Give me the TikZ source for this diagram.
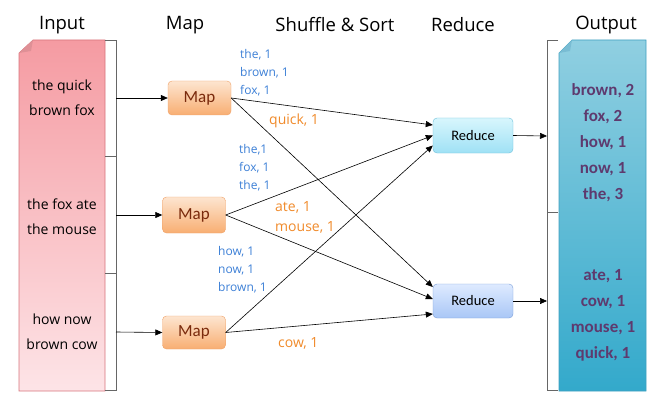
\documentclass[tikz,border=0pt]{standalone}
\usepackage{fontspec}
\setmainfont{Open Sans}
\newfontfamily\calib{Carlito}
\usetikzlibrary{arrows.meta,positioning}
\definecolor{pinkT}{HTML}{F59BA2}
\definecolor{pinkB}{HTML}{FDE4E7}
\definecolor{pinkD}{HTML}{D7747C}
\definecolor{tealT}{HTML}{90CFE1}
\definecolor{tealB}{HTML}{33A9CB}
\definecolor{tealD}{HTML}{3FA0C0}
\definecolor{outtxt}{HTML}{5E3A6E}
\definecolor{mapT}{HTML}{FDE5D0}
\definecolor{mapB}{HTML}{F8AE72}
\definecolor{mapD}{HTML}{EFA066}
\definecolor{maptxt}{HTML}{7A2A0C}
\definecolor{r1T}{HTML}{D8F6FD}
\definecolor{r1B}{HTML}{9FE1F5}
\definecolor{r1D}{HTML}{6DBFDA}
\definecolor{r2T}{HTML}{DEEAFF}
\definecolor{r2B}{HTML}{A9C7F6}
\definecolor{r2D}{HTML}{7B9ED8}
\definecolor{lblue}{HTML}{3C7FD6}
\definecolor{lorange}{HTML}{F08A2A}
\begin{document}
\begin{tikzpicture}[x=1pt,y=-1pt,
  title/.style={font=\fontsize{18.5}{22}\selectfont, anchor=center},
  intxt/.style={font=\fontsize{14}{25}\selectfont, align=center, anchor=center},
  outtext/.style={font=\calib\bfseries\fontsize{17}{26}\selectfont, text=outtxt, align=center, anchor=center},
  mapbox/.style={draw=mapD, rounded corners=4pt, top color=mapT, bottom color=mapB, minimum width=63pt, minimum height=34pt, font=\calib\fontsize{17}{18}\selectfont, text=maptxt, inner sep=0pt},
  redbox/.style={draw=#1D, rounded corners=4pt, top color=#1T, bottom color=#1B, minimum width=80pt, minimum height=35pt, font=\calib\fontsize{14.5}{16}\selectfont, text=black, inner sep=0pt},
  bl/.style={font=\fontsize{12}{18}\selectfont, text=lblue, align=left, anchor=west, inner sep=0pt},
  ol/.style={font=\fontsize{14}{20}\selectfont, text=lorange, align=left, anchor=west, inner sep=0pt},
  conn/.style={draw=black, line width=0.6pt, -{Triangle[length=7pt,width=6pt]}},
  brk/.style={draw=gray!80!black, line width=0.8pt},
]
\useasboundingbox (0,0) rectangle (666,409);
% titles
\node[title] (tin) at (62,25) {Input};
\node[title] (tmap) at (185,25) {Map};
\node[title] (tss) at (335,25) {Shuffle \& Sort};
\node[title] (tred) at (463,25) {Reduce};
\node[title] (tout) at (606,25) {Output};

% input document
\shade[top color=pinkT, bottom color=pinkB, draw=pinkD, line width=0.6pt]
  (19,53) -- (33,40) -- (105,40) -- (105,391) -- (19,391) -- cycle;
\fill[pinkD!80] (19,53) -- (33,40) -- (31,51) -- cycle;
\node[intxt] (in1) at (62,98) {the quick\\brown fox};
\node[intxt] (in2) at (62,217) {the fox ate\\the mouse};
\node[intxt] (in3) at (62,332) {how now\\brown cow};

% input bracket
\coordinate (ib0) at (116,40);
\coordinate (ib1) at (116,98);
\coordinate (ib2) at (116,215);
\coordinate (ib3) at (116,332);
\coordinate (ib4) at (116,390);
\draw[brk] (105,40) -- (ib0) -- (ib4) -- (105,390);
\draw[brk] (105,156) -- (116,156);
\draw[brk] (105,273) -- (116,273);

% output document
\shade[top color=tealT, bottom color=tealB, draw=tealD, line width=0.6pt]
  (559,53) -- (572,40) -- (646,40) -- (646,391) -- (559,391) -- cycle;
\fill[tealD!70] (559,53) -- (572,40) -- (570,51) -- cycle;
\node[outtext] (o1) at (603,143) {brown, 2\\fox, 2\\how, 1\\now, 1\\the, 3};
\node[outtext] (o2) at (603,315) {ate, 1\\cow, 1\\mouse, 1\\quick, 1};

% output bracket
\coordinate (ob1) at (547,136);
\coordinate (ob2) at (547,301);
\draw[brk] (558,40) -- (547,40) -- (547,390) -- (558,390);
\draw[brk] (547,212) -- (558,212);

% map boxes
\node[mapbox] (m1) at (199.5,98) {Map};
\node[mapbox, minimum height=36pt] (m2) at (194,215) {Map};
\node[mapbox, minimum height=33pt] (m3) at (194,332.5) {Map};

% reduce boxes
\node[redbox=r1] (r1) at (473,135.5) {Reduce};
\node[redbox=r2, minimum height=34pt] (r2) at (473,301) {Reduce};

% input arrows
\draw[conn] (ib1) -- (m1.west);
\draw[conn] (ib2) -- (m2.west);
\draw[conn] (ib3) -- (m3.west);

% shuffle connectors
\draw[conn] (m1.east) -- ([yshift=10.5pt]r1.west);
\draw[conn] (m1.east) -- ([yshift=14pt]r2.west);
\draw[conn] (m2.east) -- (r1.west);
\draw[conn] (m2.east) -- ([yshift=2pt]r2.west);
\draw[conn] (m3.east) -- ([yshift=-10pt]r1.west);
\draw[conn] (m3.east) -- ([yshift=-13pt]r2.west);

% output arrows
\draw[conn] (r1.east) -- (ob1);
\draw[conn] (r2.east) -- (ob2);

% labels
\node[bl] (l1) at (240,73) {the, 1\\brown, 1\\fox, 1};
\node[ol] (l2) at (269,121) {quick, 1};
\node[bl] (l3) at (239,168) {the,1\\fox, 1\\the, 1};
\node[ol] (l4) at (275,217) {ate, 1\\mouse, 1};
\node[bl] (l5) at (218,270) {how, 1\\now, 1\\brown, 1};
\node[ol] (l6) at (278,343) {cow, 1};
\end{tikzpicture}
\end{document}
